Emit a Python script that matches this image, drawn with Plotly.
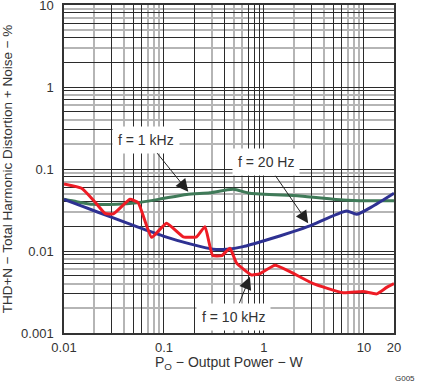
import numpy as np
import plotly.graph_objects as go

# ---- data ----
p_1k = [0.01, 0.0134, 0.0196, 0.0337, 0.0533, 0.0912, 0.169, 0.288, 0.493, 0.724, 2.29, 6.21, 10.6, 20]
thd_1k = [0.0427, 0.0399, 0.0371, 0.0371, 0.0388, 0.043, 0.049, 0.0514, 0.0565, 0.0506, 0.0469, 0.0419, 0.041, 0.041]

p_20 = [0.01, 0.0156, 0.0288, 0.0533, 0.0984, 0.182, 0.311, 0.424, 0.621, 1.06, 1.96, 2.88, 6.71, 8.45, 12.4, 20]
thd_20 = [0.0427, 0.0347, 0.0262, 0.0198, 0.0152, 0.0122, 0.0105, 0.0105, 0.0113, 0.0136, 0.0172, 0.0202, 0.0308, 0.0280, 0.0354, 0.0506]

p_10k = [0.01, 0.0150, 0.0196, 0.0257, 0.0311, 0.0457, 0.0553, 0.0753, 0.106, 0.156, 0.212, 0.257, 0.307,
         0.380, 0.457, 0.533, 0.753, 0.912, 1.29, 1.82, 3.11, 6.21, 9.84, 13.4, 16.9, 20]
thd_10k = [0.0656, 0.0582, 0.0419, 0.0288, 0.0283, 0.0427, 0.0388, 0.0147, 0.0218, 0.0149, 0.0149, 0.0198, 0.0088,
           0.0088, 0.0108, 0.0071, 0.0051, 0.0053, 0.0067, 0.0056, 0.0040, 0.0031, 0.0032, 0.0030, 0.0036, 0.0040]

x_ticks = [0.01, 0.1, 1, 10, 20]
x_ticktext = ["0.01", "0.1", "1", "10", "20"]
y_ticks = [0.001, 0.01, 0.1, 1, 10]
y_ticktext = ["0.001", "0.01", "0.1", "1", "10"]

labels = ["f = 1 kHz", "f = 20 Hz", "f = 10 kHz"]
label_targets_p = [0.175, 2.77, 0.724]
label_targets_thd = [0.0529, 0.0218, 0.00486]

# ---- grid line styling (black / grey grid like the datasheet) ----
def mults(dec, ms):
    return [dec * m for m in ms]

x_black = mults(0.01, [1, 3, 5, 6]) + mults(0.1, [1, 2, 4, 7, 8, 9]) + mults(1, [1, 3, 5, 6]) + [10]
x_grey = mults(0.01, [2, 4, 7, 8, 9]) + mults(0.1, [3, 5, 6]) + mults(1, [2, 4, 7, 8, 9]) + [20]
y_black = mults(0.001, [3, 5, 7, 9]) + mults(0.01, [1, 2, 4, 6, 8]) + mults(0.1, [1, 3, 5, 7, 9]) + mults(1, [1, 2, 4, 6, 8]) + [10]
y_grey = mults(0.001, [2, 4, 6, 8]) + mults(0.01, [3, 5, 7, 9]) + mults(0.1, [2, 4, 6, 8]) + mults(1, [3, 5, 7, 9])

xt_vals = sorted(set(x_black + x_ticks))
xt_text = [x_ticktext[x_ticks.index(v)] if v in x_ticks else "" for v in xt_vals]
yt_vals = sorted(set(y_black + y_ticks))
yt_text = [y_ticktext[y_ticks.index(v)] if v in y_ticks else "" for v in yt_vals]

FONT = "Liberation Sans, Arial, sans-serif"
TXT = "#333333"

fig = go.Figure()
fig.add_trace(go.Scatter(x=p_1k, y=thd_1k, mode="lines", line=dict(color="#3f7a58", width=3, shape="spline", smoothing=0.6)))
fig.add_trace(go.Scatter(x=p_20, y=thd_20, mode="lines", line=dict(color="#2e3192", width=3, shape="spline", smoothing=0.6)))
fig.add_trace(go.Scatter(x=p_10k, y=thd_10k, mode="lines", line=dict(color="#ee1c25", width=3, shape="spline", smoothing=0.4)))

offsets = [(-42, -52), (-42, -61), (-16, 40)]
for lab, px, py, (ax, ay) in zip(labels, label_targets_p, label_targets_thd, offsets):
    fig.add_annotation(x=np.log10(px), y=np.log10(py), text=lab, showarrow=True,
                       ax=ax, ay=ay, arrowhead=2, arrowsize=2.5, arrowwidth=1, arrowcolor="#222222",
                       bgcolor="white", borderpad=5, font=dict(family=FONT, size=14, color=TXT))

fig.add_annotation(text="P<sub>O</sub> − Output Power − W", xref="paper", yref="paper", x=0.5, y=-0.092,
                   xanchor="center", yanchor="middle", showarrow=False,
                   font=dict(family=FONT, size=14, color=TXT))
fig.add_annotation(text="G005", xref="paper", yref="paper", x=1.07, y=-0.14, xanchor="right", yanchor="middle",
                   showarrow=False, font=dict(family=FONT, size=8, color=TXT))

fig.update_xaxes(type="log", range=[np.log10(0.01), np.log10(20)], automargin=False,
                 tickmode="array", tickvals=xt_vals, ticktext=xt_text,
                 showgrid=True, gridcolor="#2b2b2b", gridwidth=1.2,
                 minor=dict(tickmode="array", tickvals=x_grey, showgrid=True, gridcolor="#b5b5b5", gridwidth=2),
                 showline=True, linecolor="#333333", linewidth=1.5, mirror=True,
                 ticks="", ticklabelstandoff=2, ticklabeloverflow="allow",
                 tickfont=dict(family=FONT, size=13, color=TXT),
                 zeroline=False)
fig.update_yaxes(type="log", range=[np.log10(0.001), np.log10(10)], automargin=False,
                 tickmode="array", tickvals=yt_vals, ticktext=yt_text,
                 showgrid=True, gridcolor="#2b2b2b", gridwidth=1.2,
                 minor=dict(tickmode="array", tickvals=y_grey, showgrid=True, gridcolor="#b5b5b5", gridwidth=2),
                 showline=True, linecolor="#333333", linewidth=1.5, mirror=True,
                 ticks="", ticklabelstandoff=6, ticklabeloverflow="allow",
                 tickfont=dict(family=FONT, size=13, color=TXT),
                 title=dict(text="THD+N − Total Harmonic Distortion + Noise − %", font=dict(family=FONT, size=13.5, color=TXT), standoff=8),
                 zeroline=False)

fig.update_layout(width=421, height=385, margin=dict(l=64, r=27, t=5, b=52),
                  paper_bgcolor="white", plot_bgcolor="white", showlegend=False)

fig.write_html("out.html", config={"displayModeBar": False},
               post_script="document.body.style.margin='0';")
